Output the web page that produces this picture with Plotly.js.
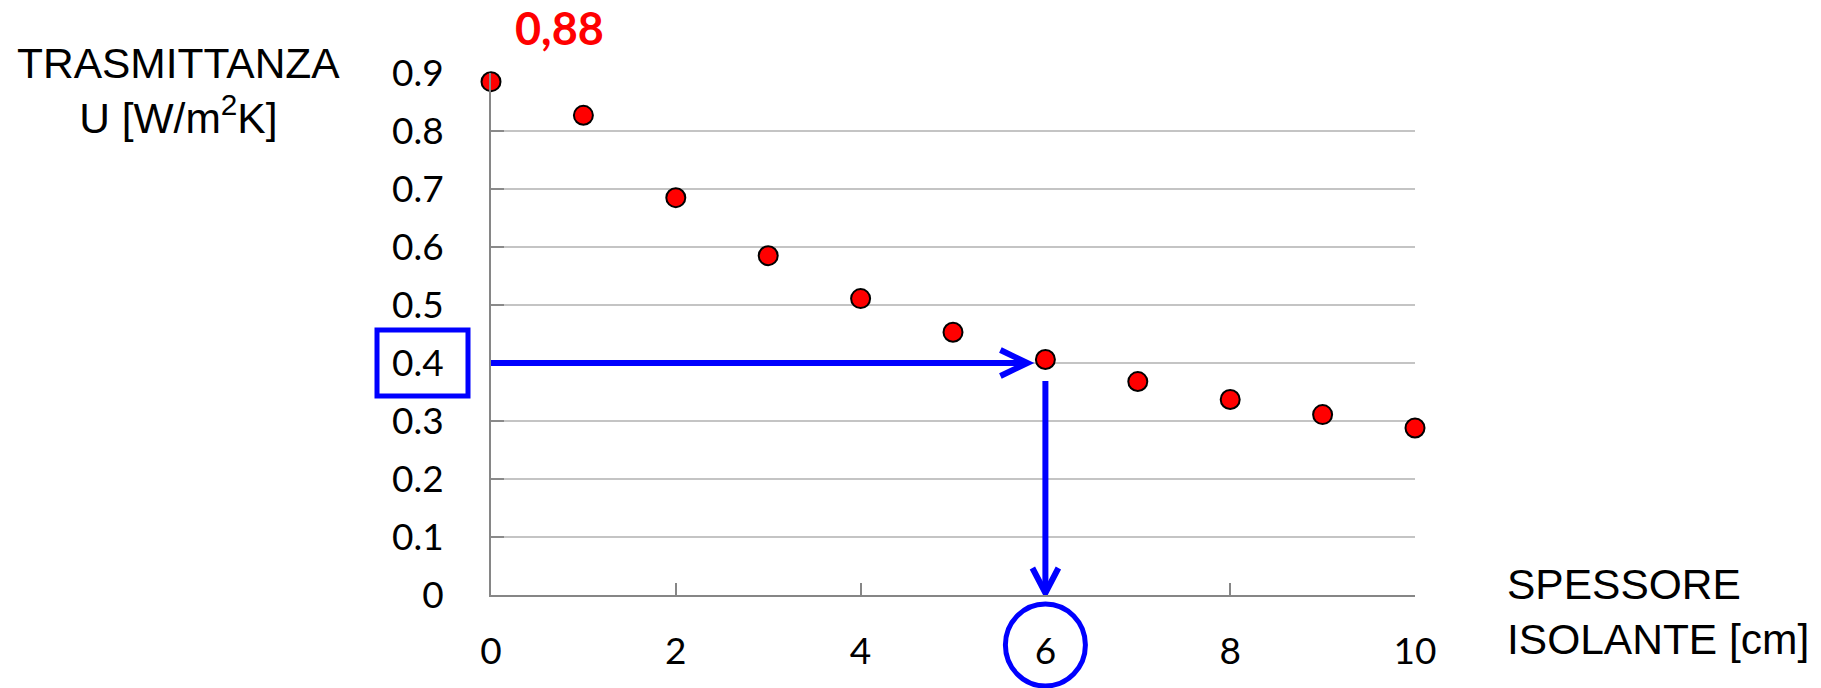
<!DOCTYPE html>
<html><head><meta charset="utf-8">
<script src="https://cdn.plot.ly/plotly-3.0.1.min.js"></script>
<style>html,body{margin:0;padding:0;background:#fff;overflow:hidden}</style>
</head><body><div id="chart" style="width:1821px;height:688px"></div>
<script>
// ---- data ----
const spessore = [0, 1, 2, 3, 4, 5, 6, 7, 8, 9, 10];
const trasmittanza = [0.885, 0.827, 0.685, 0.585, 0.511, 0.453, 0.406, 0.368, 0.337, 0.311, 0.288];
const xTickVals = [0, 2, 4, 6, 8, 10];
const yTickVals = [0, 0.1, 0.2, 0.3, 0.4, 0.5, 0.6, 0.7, 0.8, 0.9];
const yTickText = ['0', '0.1', '0.2', '0.3', '0.4', '0.5', '0.6', '0.7', '0.8', '0.9'];
const readU = 0.4;      // value read on the U axis
const readX = 6;        // resulting thickness
const firstLabel = '0,88';
const yTitle = 'TRASMITTANZA<br>U [W/m<sup>2</sup>K]';
const xTitle = 'SPESSORE<br>ISOLANTE [cm]';

// ---- geometry ----
const W = 1821, H = 688;
const M = {l: 491, r: 406, t: 73, b: 93};
const plotW = W - M.l - M.r, plotH = H - M.t - M.b;
const xMax = 10, yMax = 0.9;
const pxX = plotW / xMax, pxY = plotH / yMax;
const dx = p => p / pxX, dy = p => p / pxY;          // pixels -> data units
const paperX = p => p / plotW, paperY = p => p / plotH; // pixels -> paper units

const blue = '#0000ff';
const arrowLine = {color: blue, width: 6};

// horizontal arrow: from y axis to just before the point at readX
const hTip = readX - dx(18);
// vertical arrow: from just below the point down to the x axis
const vStart = readU - dy(18);

const shapes = [
  {type: 'line', xref: 'x', yref: 'y', x0: 0, x1: hTip, y0: readU, y1: readU, line: arrowLine},
  {type: 'path', xref: 'x', yref: 'y',
   path: `M ${hTip - dx(27)} ${readU + dy(13)} L ${hTip} ${readU} L ${hTip - dx(27)} ${readU - dy(13)}`,
   line: arrowLine},
  {type: 'line', xref: 'x', yref: 'y', x0: readX, x1: readX, y0: vStart, y1: dy(2), line: arrowLine},
  {type: 'path', xref: 'x', yref: 'y',
   path: `M ${readX - dx(13)} ${dy(27)} L ${readX} ${dy(2)} L ${readX + dx(13)} ${dy(27)}`,
   line: arrowLine},
  // box around the 0.4 tick label
  {type: 'rect', xref: 'paper', yref: 'paper',
   x0: paperX(-114), x1: paperX(-23),
   y0: readU / yMax - paperY(33), y1: readU / yMax + paperY(33),
   line: {color: blue, width: 5}},
  // circle around the 6 tick label
  {type: 'circle', xref: 'paper', yref: 'paper',
   x0: readX / xMax - paperX(40), x1: readX / xMax + paperX(40),
   y0: paperY(-50) - paperY(41), y1: paperY(-50) + paperY(41),
   line: {color: blue, width: 5}}
];

const trace = {
  type: 'scatter', mode: 'markers',
  x: spessore, y: trasmittanza,
  marker: {size: 19, color: '#ff0000', line: {color: '#000000', width: 2}},
  cliponaxis: false, hoverinfo: 'skip'
};

const tickFont = {family: 'Lato, "Open Sans", sans-serif', size: 37, color: '#000'};
const titleFont = {family: '"Liberation Sans", Arial, sans-serif', size: 42.5, color: '#000'};

const layout = {
  width: W, height: H,
  margin: {l: M.l, r: M.r, t: M.t, b: M.b, pad: 0},
  paper_bgcolor: '#ffffff', plot_bgcolor: '#ffffff',
  showlegend: false,
  xaxis: {
    range: [0, xMax], tickvals: xTickVals, ticktext: xTickVals.map(String),
    showgrid: false, zeroline: false,
    showline: true, linecolor: '#868686', linewidth: 2,
    ticks: 'inside', ticklen: 12, tickwidth: 2, tickcolor: '#868686',
    tickfont: tickFont, ticklabelstandoff: 23, fixedrange: true
  },
  yaxis: {
    range: [0, yMax], tickvals: yTickVals, ticktext: yTickText,
    showgrid: true, gridcolor: '#c4c4c4', gridwidth: 2, zeroline: false,
    showline: true, linecolor: '#868686', linewidth: 2,
    ticks: 'inside', ticklen: 13, tickwidth: 2, tickcolor: '#8a8a8a',
    tickfont: tickFont, ticklabelstandoff: 38, fixedrange: true
  },
  shapes: shapes,
  annotations: [
    {xref: 'x', yref: 'y', x: spessore[0], y: trasmittanza[0], xshift: 68, yshift: 54,
     text: '<b>' + firstLabel + '</b>', showarrow: false,
     font: {family: 'Lato, "Open Sans", sans-serif', size: 45, color: '#ff0000'},
     xanchor: 'center', yanchor: 'middle'},
    {xref: 'paper', yref: 'paper', x: paperX(178 - M.l), y: paperY(H - M.b - 91),
     text: yTitle, showarrow: false, align: 'center', xanchor: 'center', yanchor: 'middle',
     font: titleFont},
    {xref: 'paper', yref: 'paper', x: paperX(1505 - M.l), y: paperY(H - M.b - 612),
     text: xTitle, showarrow: false, align: 'left', xanchor: 'left', yanchor: 'middle',
     font: titleFont}
  ]
};

Plotly.newPlot('chart', [trace], layout, {staticPlot: true, displayModeBar: false});
</script>
</body></html>
